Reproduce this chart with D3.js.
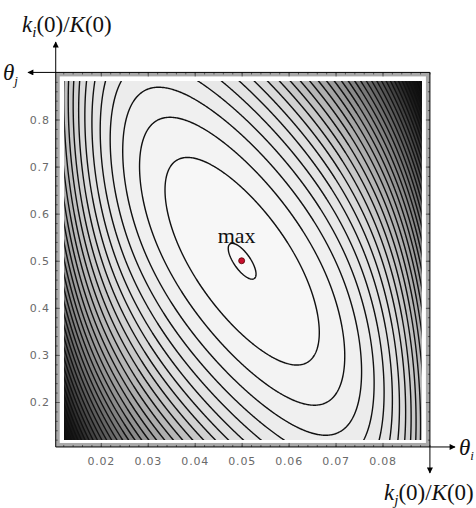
<!DOCTYPE html>
<html lang="en">
<head>
<meta charset="utf-8">
<title>Contour plot around the maximum</title>
<script src="https://d3js.org/d3.v7.min.js"></script>
<style>
  body { margin: 0; background: #fff; }
  svg { display: block; }
  .tick text { font-family: "DejaVu Sans", sans-serif; font-size: 11px; fill: #6a6a6a; letter-spacing: 0.8px; }
  .tick line { stroke: #555; }
  .lab { font-family: "Liberation Serif", "Times New Roman", serif; font-size: 23px; fill: #111; }
</style>
</head>
<body>
<script>

// Width and height
var w = 476, h = 508;

// tick labels
var xTicks = [0.02, 0.03, 0.04, 0.05, 0.06, 0.07, 0.08];
var yTicks = [0.2, 0.3, 0.4, 0.5, 0.6, 0.7, 0.8];

// position of the maximum
var peak = [0.05, 0.5];

// surface: distance below the max as a tilted quadratic
// plus 4th and 6th powers in theta_i, in steps of 0.01 (theta_i) and 0.1 (theta_j)
var unitStep = [0.01, 0.1];
var quadCoef = [0.70, 0.781, 0.424];
var powerCoef = [0.012, 0.0012];

// contour levels (how far below the maximum)
var levels = [0.03, 1.03, 2.03, 3.03, 4.03, 5.03, 6.03, 7.03, 8.03, 9.03,
              10.03, 11.03, 12.03, 13.03, 14.03, 15.03, 16.03, 17.03, 18.03, 19.03,
              20.03, 21.03, 22.03, 23.03, 24.03, 25.03, 26.03, 27.03, 28.03, 29.03,
              30.03, 31.03, 32.03, 33.03, 34.03, 35.03];

// grey shade against share of the deepest level
var shadeStops = [0, 0.2, 0.5, 0.8, 1];
var shadeGrey = [249, 222, 124, 26, 0];

// plotted ranges of the surface and of the frame
var xRange = [0.0122, 0.0883];
var yRange = [0.1195, 0.882];
var xFrame = [0.0104, 0.0901];
var yFrame = [0.1045, 0.9];

var x = d3.scaleLinear().domain([0.02, 0.08]).range([100.8, 382.5]);
var y = d3.scaleLinear().domain([0.2, 0.8]).range([402, 119.5]);

var svg = d3.select("body")
            .append("svg")
            .attr("width", w)
            .attr("height", h);

var defs = svg.append("defs");
defs.append("clipPath").attr("id", "plotclip")
    .append("rect")
    .attr("x", x(xRange[0]))
    .attr("y", y(yRange[1]))
    .attr("width", x(xRange[1]) - x(xRange[0]))
    .attr("height", y(yRange[0]) - y(yRange[1]));

defs.append("marker")
    .attr("id", "arrow")
    .attr("markerUnits", "userSpaceOnUse")
    .attr("viewBox", "0 0 10 10")
    .attr("refX", 9).attr("refY", 5)
    .attr("markerWidth", 7).attr("markerHeight", 6)
    .attr("orient", "auto")
    .append("path")
    .attr("d", "M0,0L10,5L0,10z")
    .attr("fill", "#000");

// sample the surface on a pixel grid (a bit wider than the clip)
var gx0 = Math.floor(x(xRange[0])) - 3, gx1 = Math.ceil(x(xRange[1])) + 3;
var gy0 = Math.floor(y(yRange[1])) - 3, gy1 = Math.ceil(y(yRange[0])) + 3;
var n = gx1 - gx0 + 1, m = gy1 - gy0 + 1;
var dist = new Array(n * m);
for (var j = 0; j < m; j++) {
  for (var i = 0; i < n; i++) {
    var u = (x.invert(gx0 + i) - peak[0]) / unitStep[0];
    var v = (y.invert(gy0 + j) - peak[1]) / unitStep[1];
    var u2 = u * u;
    dist[i + j * n] = quadCoef[0] * u2 + quadCoef[1] * u * v + quadCoef[2] * v * v +
                      powerCoef[0] * u2 * u2 + powerCoef[1] * u2 * u2 * u2;
  }
}
var qMax = d3.max(dist);
var usedLevels = levels.filter(function (l) { return l < qMax; });

var gray = d3.scaleLinear()
             .domain(shadeStops.map(function (s) { return s * qMax; }))
             .range(shadeGrey);
function greyAt(q) {
  var g = Math.round(gray(q));
  return d3.rgb(g, g, g).toString();
}
function bandColor(k) {
  var lo = usedLevels[k], hi = k + 1 < usedLevels.length ? usedLevels[k + 1] : qMax;
  return greyAt((lo + hi) / 2);
}

var contours = d3.contours().size([n, m]).thresholds(usedLevels)(dist);
var path = d3.geoPath(d3.geoIdentity().translate([gx0, gy0]));

var plot = svg.append("g").attr("clip-path", "url(#plotclip)");
plot.append("rect")
    .attr("x", gx0).attr("y", gy0).attr("width", n).attr("height", m)
    .attr("fill", greyAt(usedLevels[0] / 2));

plot.selectAll("path.band")
    .data(contours)
    .enter()
    .append("path")
    .attr("class", "band")
    .attr("d", path)
    .attr("fill", function (d, k) { return bandColor(k); })
    .attr("stroke", "#111")
    .attr("stroke-width", 1.4)
    .attr("stroke-linejoin", "round");

// frame
var fx0 = x(xFrame[0]), fx1 = x(xFrame[1]), fy0 = y(yFrame[1]), fy1 = y(yFrame[0]);
svg.append("rect")
   .attr("x", fx0 + 2).attr("y", fy0 + 2)
   .attr("width", fx1 - fx0 - 4).attr("height", fy1 - fy0 - 4)
   .attr("fill", "none")
   .attr("stroke", "#a9a9a9")
   .attr("stroke-width", 4);

var xf = x.copy().domain(xFrame).range([fx0, fx1]);
var yf = y.copy().domain(yFrame).range([fy1, fy0]);
var xMinor = xf.ticks(40).filter(function (t) { return t > xFrame[0] && t < xFrame[1]; });
var yMinor = yf.ticks(40).filter(function (t) { return t > yFrame[0] && t < yFrame[1]; });

function tickAxis(axis, tx, ty, values, size, fmt) {
  var g = svg.append("g")
     .attr("transform", "translate(" + tx + "," + ty + ")")
     .call(axis.tickValues(values).tickSize(size).tickFormat(fmt).tickPadding(8));
  g.select(".domain").remove();
  return g;
}

// minor ticks on all sides
tickAxis(d3.axisBottom(x), 0, fy1, xMinor, -2, "");
tickAxis(d3.axisTop(x), 0, fy0, xMinor, -2, "");
tickAxis(d3.axisLeft(y), fx0, 0, yMinor, -2, "");
tickAxis(d3.axisRight(y), fx1, 0, yMinor, -2, "");

// major ticks with labels
tickAxis(d3.axisBottom(x), 0, fy1, xTicks, -4, d3.format(".2f"))
  .selectAll("text").attr("dy", "0.71em").attr("y", 10);
tickAxis(d3.axisLeft(y), fx0, 0, yTicks, -4, d3.format(".1f"))
  .selectAll("text").attr("x", -6);
tickAxis(d3.axisTop(x), 0, fy0, xTicks, -4, "");
tickAxis(d3.axisRight(y), fx1, 0, yTicks, -4, "");

// axes with arrows
var arrows = [
  [[fx0, fy1], [fx0, 42]],
  [[fx0, fy1], [455, fy1]],
  [[fx1, fy0], [28, fy0]],
  [[fx1, fy0], [fx1, 473]]
];
svg.selectAll("line.arrow")
   .data(arrows)
   .enter()
   .append("line")
   .attr("class", "arrow")
   .attr("x1", function (d) { return d[0][0]; })
   .attr("y1", function (d) { return d[0][1]; })
   .attr("x2", function (d) { return d[1][0]; })
   .attr("y2", function (d) { return d[1][1]; })
   .attr("stroke", "#000")
   .attr("stroke-width", 1)
   .attr("marker-end", "url(#arrow)");

// axis labels
function kLabel(tx, ty, sub) {
  var t = svg.append("text").attr("class", "lab").attr("x", tx).attr("y", ty);
  t.append("tspan").style("font-style", "italic").text("k");
  t.append("tspan").style("font-style", "italic").style("font-size", "15px").attr("dy", 5).text(sub);
  t.append("tspan").attr("dy", -5).text("(0)/");
  t.append("tspan").style("font-style", "italic").text("K");
  t.append("tspan").text("(0)");
}
kLabel(22, 32, "i");
kLabel(384, 500, "j");

function thetaLabel(tx, ty, sub) {
  var t = svg.append("text").attr("class", "lab").attr("x", tx).attr("y", ty);
  t.append("tspan").style("font-style", "italic").text("\u03B8");
  t.append("tspan").style("font-style", "italic").style("font-size", "13px").attr("dy", 5).text(sub);
}
thetaLabel(3, 80, "j");
thetaLabel(459, 455, "i");

// the maximum
svg.append("text")
   .attr("class", "lab")
   .attr("x", x(peak[0]) - 5)
   .attr("y", y(peak[1]) - 18)
   .attr("text-anchor", "middle")
   .style("font-size", "22px")
   .text("max");

svg.append("circle")
   .attr("cx", x(peak[0]))
   .attr("cy", y(peak[1]))
   .attr("r", 3)
   .attr("fill", "#c8102e")
   .attr("stroke", "#500")
   .attr("stroke-width", 0.8);

</script>
</body>
</html>
